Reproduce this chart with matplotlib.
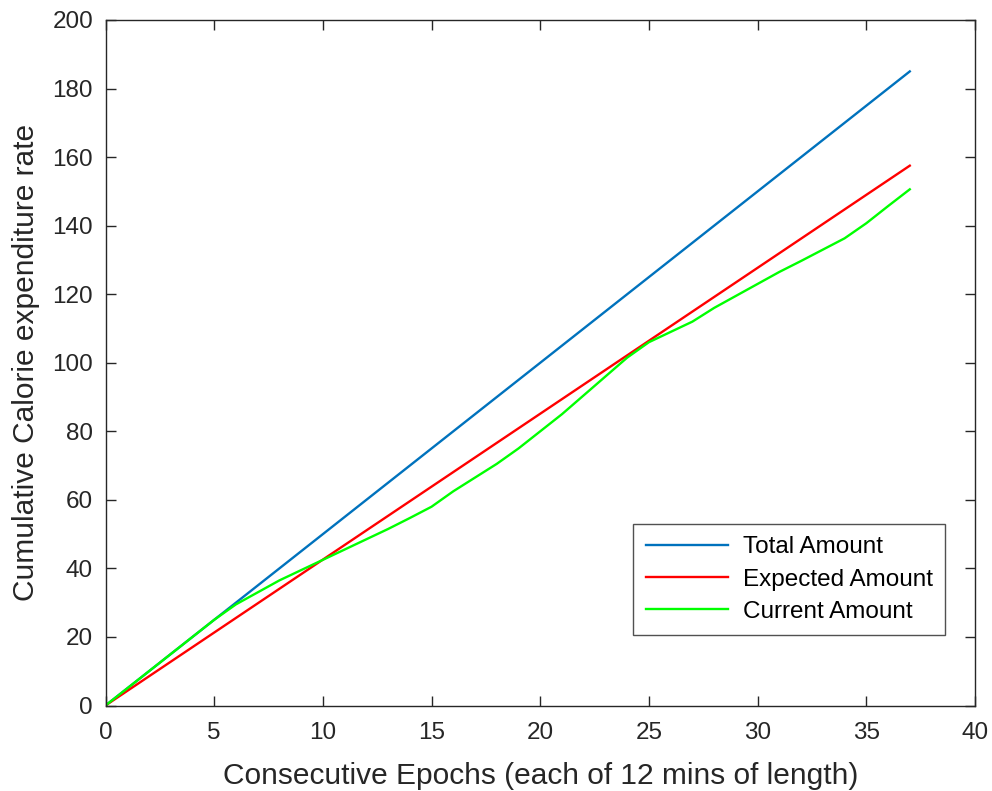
import matplotlib
matplotlib.use("Agg")
import matplotlib.pyplot as plt

plt.rcParams['font.family'] = ['Liberation Sans', 'DejaVu Sans']

epochs = list(range(0, 38))
total_amount = [5 * e for e in epochs]
expected_amount = [157.5 / 37 * e for e in epochs]
current_amount = [0, 5, 10, 15, 20, 25, 29.5, 33, 36.5, 39.5,
                  42.5, 45.5, 48.5, 51.5, 54.7, 58, 62.5, 66.5, 70.5, 75,
                  80, 85, 90.5, 96, 101.5, 106, 109, 112, 116, 119.5,
                  123, 126.5, 129.7, 133, 136.3, 140.7, 145.7, 150.6]

labels = ['Total Amount', 'Expected Amount', 'Current Amount']
colors = ['#0072BD', '#FF0000', '#00FF00']
txt = '#262626'

fig = plt.figure(figsize=(9.92, 7.91), dpi=100)
ax = fig.add_axes([105.5/992, (791-705.5)/791, (975-105.5)/992, (705.5-20)/791])

ax.plot(epochs, total_amount, color=colors[0], lw=1.7, label=labels[0])
ax.plot(epochs, expected_amount, color=colors[1], lw=1.7, label=labels[1])
ax.plot(epochs, current_amount, color=colors[2], lw=1.7, label=labels[2])

ax.set_xlim(0, 40)
ax.set_ylim(0, 200)
ax.set_xticks(range(0, 41, 5))
ax.set_yticks(range(0, 201, 20))
ax.tick_params(direction='in', top=True, right=True, length=7, width=1,
               labelsize=17.5, colors=txt)
ax.tick_params(axis='x', pad=12)
ax.tick_params(axis='y', pad=9)
for s in ax.spines.values():
    s.set_color(txt)
    s.set_linewidth(1)

ax.set_xlabel('Consecutive Epochs (each of 12 mins of length)', fontsize=21.5, color=txt, labelpad=13)
ax.set_ylabel('Cumulative Calorie expenditure rate', fontsize=21.5, color=txt, labelpad=9)

leg = ax.legend(loc='lower right', bbox_to_anchor=(945/992, (791-635)/791),
                bbox_transform=fig.transFigure, fontsize=17.5, frameon=True,
                fancybox=False, edgecolor=txt, handlelength=3.4, handletextpad=0.6,
                borderpad=0.5, labelspacing=0.42, borderaxespad=0)
leg.get_frame().set_linewidth(1)
for t in leg.get_texts():
    t.set_color('black')

fig.savefig('out.png', dpi=100)
